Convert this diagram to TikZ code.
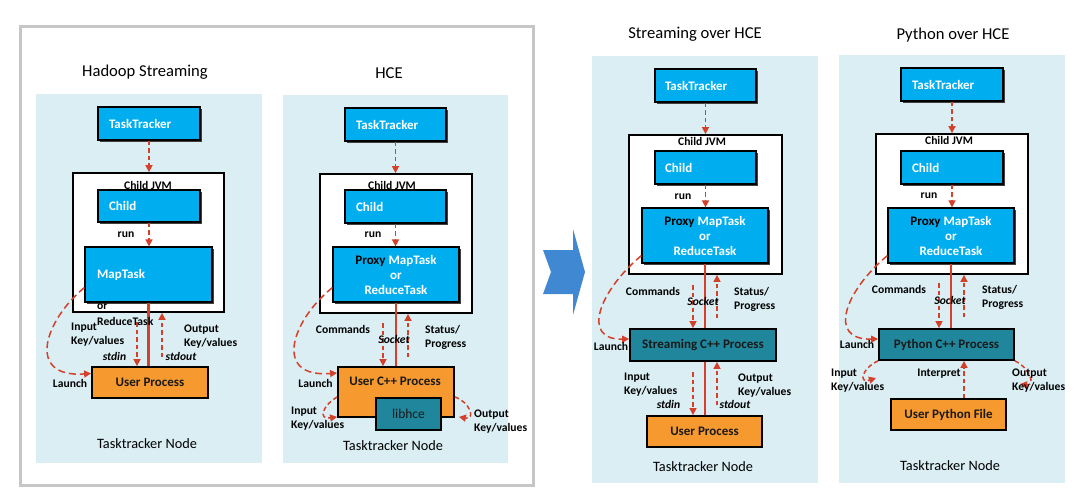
\documentclass[tikz,border=0pt]{standalone}
\usepackage{fontspec}
\setmainfont{Carlito}
\usetikzlibrary{arrows.meta,shadows}
\definecolor{nodebg}{HTML}{DAEEF3}
\definecolor{taskblue}{HTML}{00AEEF}
\definecolor{procteal}{HTML}{1F869C}
\definecolor{userorange}{HTML}{F6992F}
\definecolor{linkred}{HTML}{D4402A}
\definecolor{framegray}{HTML}{C6C6C6}
\definecolor{chevblue}{HTML}{4188D2}
\tikzset{
  panel/.style={fill=nodebg},
  jvm/.style={draw=black, line width=1.8pt, fill=white},
  task/.style={draw=black, line width=1.2pt, fill=taskblue, text=white, align=left, inner xsep=11pt, minimum height=33pt, font=\fontsize{13}{15}\selectfont\bfseries, drop shadow={shadow xshift=2pt, shadow yshift=-2pt, fill=black!75, opacity=1}},
  proxy/.style={task, align=center, inner xsep=0pt, minimum width=126pt, minimum height=55pt},
  user/.style={draw=black, line width=1.8pt, fill=userorange, text=black!90, minimum height=31pt, font=\fontsize{13}{15}\selectfont\bfseries},
  proc/.style={user, fill=procteal},
  boxtext/.style={font=\fontsize{13}{15}\selectfont\bfseries, text=black!90, inner sep=0pt},
  lbl/.style={font=\fontsize{11.6}{14}\selectfont\bfseries, inner sep=0pt, align=left},
  pipe/.style={font=\fontsize{11.6}{14}\selectfont\bfseries\itshape, inner sep=0pt},
  heading/.style={font=\fontsize{16.6}{18}\selectfont},
  foot/.style={font=\fontsize{14.3}{16}\selectfont},
  call/.style={draw=linkred, line width=1.5pt, dash pattern=on 4.5pt off 3pt, -{Triangle[length=7pt,width=7pt]}},
  launch/.style={call, dash pattern=on 7pt off 4pt},
  sock/.style={draw=linkred, line width=2.8pt},
}
\begin{document}
\begin{tikzpicture}[x=1pt, y=-1pt]
\useasboundingbox (0,0) rectangle (1080,500);
\fill[panel] (36,94) rectangle (262,463);
\fill[panel] (283,95) rectangle (508,463);
\fill[panel] (592,56) rectangle (818,483);
\fill[panel] (839,55) rectangle (1065,483);
\draw[framegray, line width=3pt] (20,27) rectangle (533,485);
\fill[chevblue] (543,250) -- (573,250) -- (573,229) -- (585,272) -- (573,315) -- (573,294) -- (543,294) -- (551,272) -- cycle;

\node[heading] (t1) at (145,72) {Hadoop Streaming};
\node[jvm, minimum width=151pt, minimum height=139pt] (jvm1) at (148.5,242.5) {};
\node[lbl] (jl1) at (148,185) {Child JVM};
\node[task, text width=80pt] (tt1) at (149,123.5) {TaskTracker};
\node[task, text width=80pt, minimum height=32pt] (child1) at (149,206) {Child};
\node[task, text width=103pt, inner xsep=12pt, minimum height=55pt] (map1) at (148.5,274.5) {MapTask};
\node[user, minimum width=116pt] (up1) at (150,382.5) {User Process};
\coordinate (in1) at (137,322);
\coordinate (out1) at (162,357);
\draw[call] (tt1.south) -- (tt1.south |- jvm1.north);
\draw[call] (child1.south) -- (child1.south |- map1.north);
\draw[sock] (map1.south) -- (map1.south |- up1.north);
\draw[call] (in1) -- (in1 |- up1.north);
\draw[call] (out1) -- (out1 |- jvm1.south);
\draw[launch] ([yshift=15pt]map1.south west) .. controls (45,320) and (25,378) .. ([yshift=9pt]up1.west);
\node[lbl] (run1) at (126,235) {run};
\node[lbl, anchor=west] (or1) at (97,307) {or};
\node[lbl, anchor=west] (red1) at (97,321) {ReduceTask};
\node[lbl, anchor=west] (inl1) at (71,335) {Input\\Key/values};
\node[pipe] (sin1) at (114.5,356) {stdin};
\node[lbl, anchor=west] (outl1) at (184,337) {Output\\Key/values};
\node[pipe] (sout1) at (181,356) {stdout};
\node[lbl] (la1) at (70,383) {Launch};
\node[foot] (f1) at (147,444) {Tasktracker Node};

\node[heading] (t2) at (389,73) {HCE};
\node[jvm, minimum width=152pt, minimum height=139pt] (jvm2) at (396,243.5) {};
\node[lbl] (jl2) at (392,185) {Child JVM};
\node[task, text width=79pt] (tt2) at (395.5,124.5) {TaskTracker};
\node[task, text width=79pt] (child2) at (395.5,206.5) {Child};
\node[proxy] (proxy2) at (396,274.5) {\textcolor{black}{Proxy} MapTask\\or\\ReduceTask};
\node[user, minimum width=116pt, minimum height=50pt] (cpp2) at (396,392) {};
\node[boxtext] (cppt2) at (395,381) {User C++ Process};
\node[proc, minimum width=65pt, minimum height=32pt, font=\fontsize{13.5}{15}\selectfont] (hce2) at (408.5,414) {libhce};
\coordinate (cmd2) at (383,323);
\coordinate (st2) at (408,357);
\draw[call] (tt2.south) -- (tt2.south |- jvm2.north);
\draw[call] (child2.south) -- (child2.south |- proxy2.north);
\draw[sock] (proxy2.south) -- (proxy2.south |- cpp2.north);
\draw[call] (cmd2) -- (cmd2 |- cpp2.north);
\draw[call] (st2) -- (st2 |- jvm2.south);
\draw[launch] ([yshift=15pt]proxy2.south west) .. controls (292,320) and (272,378) .. ([yshift=19pt]cpp2.west);
\draw[call] ([yshift=-5pt]cpp2.west) .. controls (322,406) and (318,420) .. ([yshift=1pt]cpp2.south west);
\draw[call] ([yshift=-5pt]cpp2.east) .. controls (470,402) and (476,420) .. ([xshift=4pt,yshift=1pt]cpp2.south east);
\node[lbl] (run2) at (373,235) {run};
\node[lbl] (cmdl2) at (343,329) {Commands};
\node[pipe] (sockl2) at (394,339) {Socket};
\node[lbl, anchor=west] (stl2) at (425,337.5) {Status/\\Progress};
\node[lbl] (la2) at (315.5,383) {Launch};
\node[lbl, anchor=west] (inl2) at (291,418.5) {Input\\Key/values};
\node[lbl, anchor=west] (outl2) at (474,421.5) {Output\\Key/values};
\node[foot] (f2) at (393,446) {Tasktracker Node};

\node[heading] (t3) at (695,34) {Streaming over HCE};
\node[jvm, minimum width=153pt, minimum height=139pt] (jvm3) at (705.5,204.5) {};
\node[lbl] (jl3) at (702,141) {Child JVM};
\node[task, text width=81pt, inner xsep=10pt] (tt3) at (705.5,85.5) {TaskTracker};
\node[task, text width=81pt, inner xsep=10pt] (child3) at (705.5,167.5) {Child};
\node[proxy] (proxy3) at (705,235.5) {\textcolor{black}{Proxy} MapTask\\or\\ReduceTask};
\node[proc, minimum width=146pt, minimum height=32pt] (cpp3) at (703,345) {Streaming C++ Process};
\node[user, minimum width=115pt] (up3) at (704.5,431.5) {User Process};
\coordinate (cmd3) at (693,285);
\coordinate (st3) at (717,318);
\coordinate (in3) at (693,372);
\coordinate (out3) at (717,405);
\draw[call] (tt3.south) -- (tt3.south |- jvm3.north);
\draw[call] (child3.south) -- (child3.south |- proxy3.north);
\draw[sock] (proxy3.south) -- (proxy3.south |- cpp3.north);
\draw[sock] (proxy3.south |- cpp3.south) -- (proxy3.south |- up3.north);
\draw[call] (cmd3) -- (cmd3 |- cpp3.north);
\draw[call] (st3) -- (st3 |- jvm3.south);
\draw[call] (in3) -- (in3 |- up3.north);
\draw[call] (out3) -- (out3 |- cpp3.south);
\draw[launch] ([yshift=8pt]proxy3.south west) .. controls (600,290) and (580,340) .. ([yshift=6pt]cpp3.west);
\node[lbl] (run3) at (683,197) {run};
\node[lbl] (cmdl3) at (653,291) {Commands};
\node[pipe] (sockl3) at (703,301) {Socket};
\node[lbl, anchor=west] (stl3) at (734,299) {Status/\\Progress};
\node[lbl] (la3) at (611,346) {Launch};
\node[lbl, anchor=west] (inl3) at (624,384.5) {Input\\Key/values};
\node[pipe] (sin3) at (668.5,404) {stdin};
\node[lbl, anchor=west] (outl3) at (738,386) {Output\\Key/values};
\node[pipe] (sout3) at (735,404) {stdout};
\node[foot] (f3) at (703,467) {Tasktracker Node};

\node[heading] (t4) at (953,35) {Python over HCE};
\node[jvm, minimum width=152pt, minimum height=140pt] (jvm4) at (952,204) {};
\node[lbl] (jl4) at (949,140) {Child JVM};
\node[task, text width=80pt] (tt4) at (952,84.5) {TaskTracker};
\node[task, text width=80pt] (child4) at (952,167.5) {Child};
\node[proxy] (proxy4) at (951,235.5) {\textcolor{black}{Proxy} MapTask\\or\\ReduceTask};
\node[proc, minimum width=135pt] (cpp4) at (946.5,344.5) {Python C++ Process};
\node[user, minimum width=115pt] (upy4) at (948.5,414.5) {User Python File};
\coordinate (cmd4) at (939,283);
\coordinate (st4) at (964,317);
\coordinate (ink4) at (876,378);
\coordinate (outk4) at (1020,384);
\draw[call] (tt4.south) -- (tt4.south |- jvm4.north);
\draw[call] (child4.south) -- (child4.south |- proxy4.north);
\draw[sock] (proxy4.south) -- (proxy4.south |- cpp4.north);
\draw[call] (cmd4) -- (cmd4 |- cpp4.north);
\draw[call] (st4) -- (st4 |- jvm4.south);
\draw[call] (upy4.north -| st4) -- (cpp4.south -| st4);
\draw[launch] ([yshift=8pt]proxy4.south west) .. controls (846,290) and (826,340) .. ([yshift=5.5pt]cpp4.west);
\draw[call] (cpp4.south west) .. controls (862,368) and (858,384) .. (ink4);
\draw[call] (cpp4.south east) .. controls (1030,368) and (1036,386) .. (outk4);
\node[lbl] (run4) at (929,196) {run};
\node[lbl] (cmdl4) at (899,289) {Commands};
\node[pipe] (sockl4) at (950,300) {Socket};
\node[lbl, anchor=west] (stl4) at (982,297.5) {Status/\\Progress};
\node[lbl] (la4) at (857,344) {Launch};
\node[lbl, anchor=west] (inl4) at (831,380.5) {Input\\Key/values};
\node[lbl] (intl4) at (939,374) {Interpret};
\node[lbl, anchor=west] (outl4) at (1012,381) {Output\\Key/values};
\node[foot] (f4) at (950,466) {Tasktracker Node};
\end{tikzpicture}
\end{document}
